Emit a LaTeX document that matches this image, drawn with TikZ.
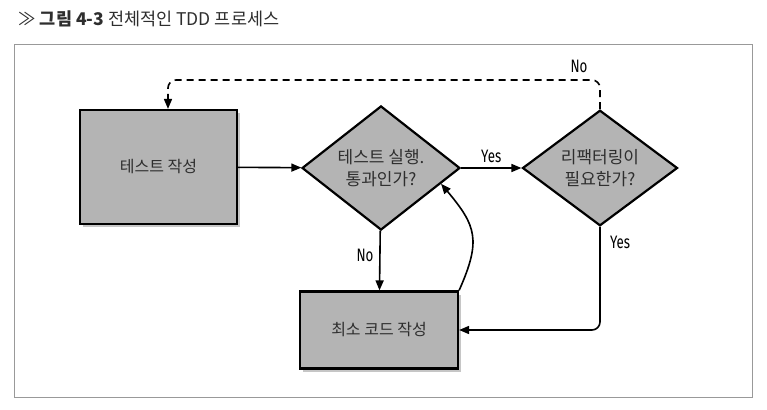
\documentclass[tikz,border=0pt]{standalone}
\usepackage{fontspec}
\setmainfont{Noto Sans CJK KR}
\newfontfamily\lblfont[FakeStretch=0.74]{Fira Sans}
\usetikzlibrary{shapes.geometric,arrows.meta,shadows,calc}
\definecolor{boxgray}{HTML}{B4B4B4}
\definecolor{inkgray}{HTML}{2E2E2E}

\begin{document}
\begin{tikzpicture}[x=1pt,y=-1pt,
  stepbox/.style={draw=black,line width=2.2pt,fill=boxgray,text=inkgray,font=\fontsize{16}{18}\selectfont,
    drop shadow={shadow xshift=3pt,shadow yshift=-3pt,opacity=0.45}},
  askbox/.style={diamond,draw=black,line width=2.2pt,fill=boxgray,text=inkgray,inner sep=0pt,align=center,
    font=\fontsize{17}{22}\selectfont},
  flow/.style={line width=1.6pt,-{Triangle[length=10pt,width=8pt]}},
  lbl/.style={font=\lblfont\fontsize{18}{20}\selectfont,text=black,inner sep=1pt}]
 \useasboundingbox (0,0) rectangle (767,409);
 \node[anchor=west,text=inkgray,font=\fontsize{17.5}{19}\selectfont] (title) at (15,19) {≫ \textbf{그림 4-3} 전체적인 TDD 프로세스};
 \draw[line width=1pt,color=black!40] (14,45) rectangle (752,397);
 \node[stepbox,minimum width=157pt,minimum height=114pt] (write) at (158.5,167) {테스트 작성};
 \node[askbox,minimum width=158pt,minimum height=114pt] (run) at (381,168) {테스트 실행.\\통과인가?};
 \node[askbox,minimum width=155pt,minimum height=113pt] (refac) at (600,168) {리팩터링이\\필요한가?};
 \node[stepbox,minimum width=158pt,minimum height=77pt] (code) at (379,330) {최소 코드 작성};
 \coordinate (loop) at (168,80);
 \coordinate (hit) at ($(run.east)!0.25!(run.south)$);
 \draw[flow] (write) -- (run);
 \draw[flow] (run) -- node[lbl,above=3pt] (yes1) {Yes} (refac);
 \draw[flow] (code.north east) to[out=66,in=-50,looseness=1.3] (hit);
 \draw[flow] (run) -- (code);
 \node[lbl] (no1) at (365,255) {No};
 \draw[flow,rounded corners=8pt] (refac.south) |- (code.east);
 \node[lbl] (yes2) at (620,242) {Yes};
 \draw[flow,dash pattern=on 7pt off 5pt,rounded corners=8pt] (refac.north) |- (loop) -- (loop |- write.north);
 \node[lbl] (no2) at (579,66) {No};
\end{tikzpicture}
\end{document}
